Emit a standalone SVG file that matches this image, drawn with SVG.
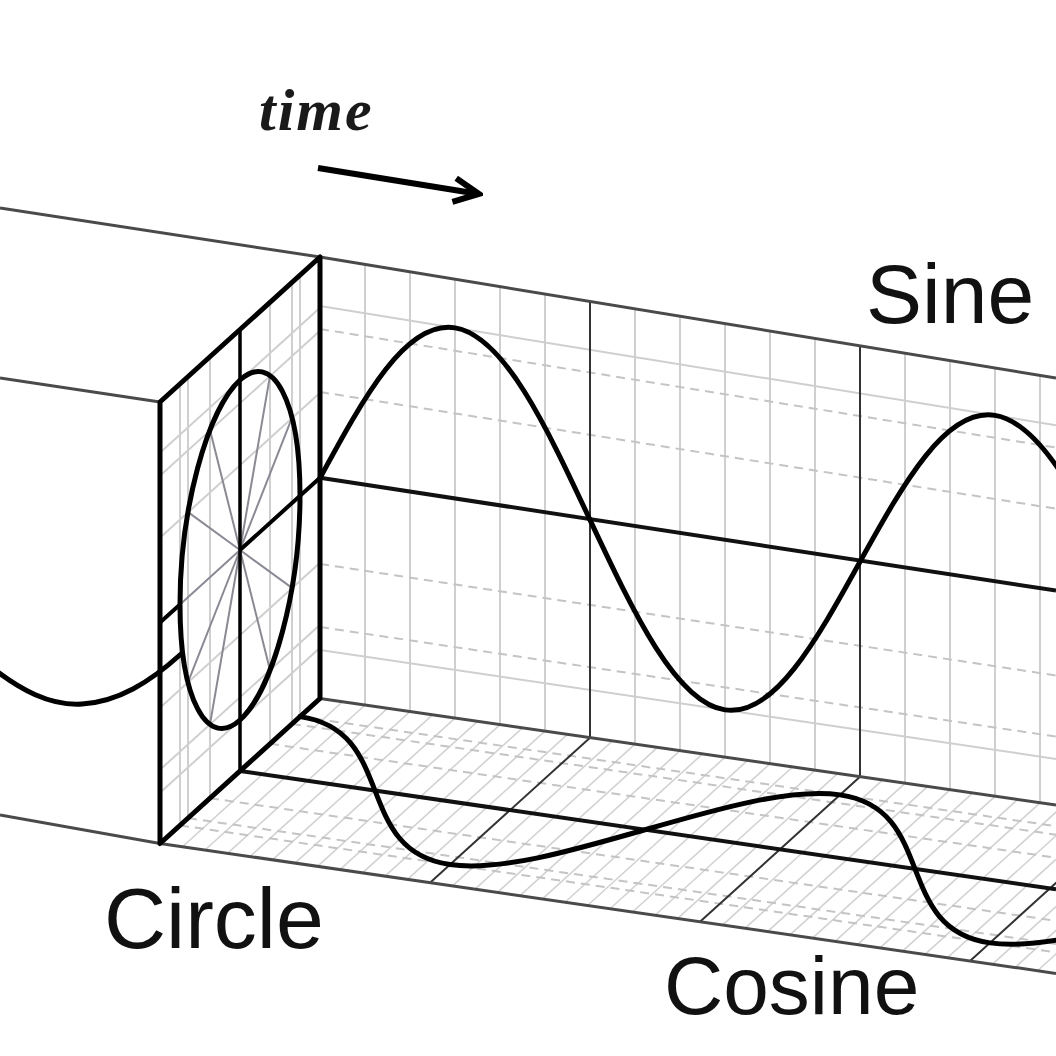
<svg xmlns="http://www.w3.org/2000/svg" width="1056" height="1056" viewBox="0 0 1056 1056">
  <defs>
    <style>
      .grid { stroke: #cfcfcf; stroke-width: 2; fill: none; }
      .gridDash { stroke: #c4c4c4; stroke-width: 2; fill: none; stroke-dasharray: 9 6; }
      .hatch { stroke: #d2d2d2; stroke-width: 1.6; fill: none; }
      .edge { stroke: #4a4a4a; stroke-width: 3; fill: none; }
      .major { stroke: #333; stroke-width: 2; fill: none; }
      .axis { stroke: #111; stroke-width: 4; fill: none; }
      .curve { stroke: #000; stroke-width: 5; fill: none; stroke-linecap: round; }
      .frame { stroke: #000; stroke-width: 5; fill: none; stroke-linejoin: round; }
      .spoke { stroke: #8a8a95; stroke-width: 2; fill: none; }
      .label { font-family: "Liberation Sans", Arial, sans-serif; fill: #111; }
    </style>
    <marker id="arrowhead" markerUnits="userSpaceOnUse" markerWidth="34" markerHeight="34" viewBox="0 0 34 34" refX="30" refY="16" orient="auto">
      <path d="M5,4 L30,16 L5,28" fill="none" stroke="#000" stroke-width="6" stroke-linejoin="miter"/>
    </marker>
  </defs>
  <rect width="1056" height="1056" fill="#fff"/>

  <!-- floor (cosine plane) grid -->
  <g id="floor-grid">
    <path class="hatch" d="M342.5,701.76 l-160,145 M365,705.03 l-160,145 M387.5,708.29 l-160,145 M410,711.55 l-160,145 M432.5,714.81 l-160,145 M455,718.08 l-160,145 M477.5,721.34 l-160,145 M500,724.6 l-160,145 M522.5,727.86 l-160,145 M545,731.13 l-160,145 M567.5,734.39 l-160,145 M612.5,740.91 l-160,145 M635,744.18 l-160,145 M657.5,747.44 l-160,145 M680,750.7 l-160,145 M702.5,753.96 l-160,145 M725,757.23 l-160,145 M747.5,760.49 l-160,145 M770,763.75 l-160,145 M792.5,767.01 l-160,145 M815,770.28 l-160,145 M837.5,773.54 l-160,145 M882.5,780.06 l-160,145 M905,783.33 l-160,145 M927.5,786.59 l-160,145 M950,789.85 l-160,145 M972.5,793.11 l-160,145 M995,796.38 l-160,145 M1017.5,799.64 l-160,145 M1040,802.9 l-160,145 M1062.5,806.16 l-160,145 M1085,809.43 l-160,145 M1107.5,812.69 l-160,145 M1152.5,819.21 l-160,145 M1175,822.48 l-160,145 M1197.5,825.74 l-160,145 M1220,829 l-160,145"/>
    <path class="gridDash" d="M300,716.6 L1056,826.2 M291.96,723.9 L1056,834.7 M270,743.8 L1056,857.75 M210,798.2 L1056,920.85 M188.04,818.1 L1056,943.9 M180,825.4 L1056,952.4"/>
    <path class="major" d="M590,737.7 L430,882.7 M860,776.8 L700,921.8 M1130,815.9 L970,960.9"/>
  </g>

  <!-- sine wall grid -->
  <g id="wall-grid">
    <path class="grid" d="M365,264.4 V705 M410,271.8 V711.6 M455,279.2 V718.1 M500,286.6 V724.7 M545,294 V731.2 M635,308.8 V744.3 M680,316.2 V750.8 M725,323.6 V757.4 M770,331 V763.9 M815,338.4 V770.5 M905,353.2 V783.6 M950,360.6 V790.1 M995,368 V796.6 M1040,375.4 V803.2"/>
    <path class="grid" d="M320,306 L1056,425.2 M320,650 L1056,758.9"/>
    <path class="gridDash" d="M320,329 L1056,447.6 M320,627 L1056,736.6 M320,392 L1056,508.7 M320,564 L1056,675.5"/>
    <path class="major" d="M590,301.4 V737.8 M860,345.8 V777"/>
  </g>

  <!-- circle panel grid -->
  <g id="panel-grid">
    <path class="grid" d="M180,383.9 V825.4 M188,376.6 V818.1 M210,356.7 V798.2 M270,302.3 V743.8 M292,282.4 V723.9 M300,275.2 V716.7"/>
    <path class="grid" d="M160,452.75 L320,307.75 M160,475.75 L320,330.75 M160,537.75 L320,392.75 M160,707.75 L320,562.75 M160,769.75 L320,624.75 M160,792.75 L320,647.75"/>
  </g>

  <!-- box edges -->
  <g id="edges">
    <path class="edge" d="M0,208 L320,257 L1056,378"/>
    <path class="edge" d="M0,378 L160,402"/>
    <path class="edge" d="M0,815 L160,843.5 L1056,973.4"/>
    <path class="edge" d="M320,698.5 L1056,805"/>
  </g>

  <!-- axes -->
  <g id="axes">
    <path class="axis" d="M320,477.75 L1056,590.6"/>
    <path class="axis" d="M240,771 L1056,889.3"/>
  </g>

  <!-- circle panel -->
  <g id="circle-panel">
    <path class="spoke" d="M240,550 L291.96,417.89 M240,550 L270,375.58 M240,550 L210,429.98 M240,550 L188.04,512.11 M240,550 L180,604.4 M240,550 L188.04,682.11 M240,550 L210,724.42 M240,550 L270,670.02 M240,550 L291.96,587.89"/>
    <circle cx="0" cy="0" r="1" transform="matrix(60,-54.4,0,170,240,550)" fill="none" stroke="#000" stroke-width="5" vector-effect="non-scaling-stroke"/>
    <path class="frame" d="M160,402 L320,257 L320,698.5 L160,843.5 Z"/>
    <path d="M240,329.5 V771" stroke="#000" stroke-width="3.5" fill="none"/>
    <path d="M160,622.5 L180,604.4 M240,550 L320,477.75" stroke="#000" stroke-width="4" fill="none"/>
  </g>

  <!-- waves -->
  <g id="waves">
    <path id="past-wave" class="curve" d="M-10,666 C20,690 50,706 82,704 C118,702 150,682 181,654"/>
    <path id="sine-wave" class="curve" d="M320,478 C364,396.9 406.1,320 455,327.9 C503.9,335.8 546,425.7 590,519.9 C634,613.7 676.1,702.7 725,709.9 C773.9,717.2 816,641.2 860,561.7 C904,482.5 946.1,407.4 995,415.4 C1043.9,423.3 1086,511.4 1130,603.6"/>
    <path id="cosine-wave" class="curve" d="M300,716.6 C348.86,723.68 361.72,756.32 375,790.58 C388.28,824.83 401.14,857.47 450,864.55 C498.86,871.63 570.24,851.21 645,829.73 C719.76,808.24 791.14,787.82 840,794.9 C888.86,801.98 901.72,834.62 915,868.88 C928.28,903.13 941.14,935.77 990,942.85 C1038.86,949.93 1110.24,929.51 1185,908.03"/>
  </g>

  <!-- time arrow -->
  <g id="time">
    <text x="259" y="130" font-family="Liberation Serif, serif" font-style="italic" font-weight="bold" font-size="60" letter-spacing="2" fill="#1a1a1a">time</text>
    <path d="M318,168 L479,194" stroke="#000" stroke-width="6" fill="none" marker-end="url(#arrowhead)"/>
  </g>

  <!-- labels -->
  <g id="labels">
    <text class="label" x="866" y="323" font-size="84">Sine</text>
    <text class="label" x="104" y="948" font-size="86">Circle</text>
    <text class="label" x="664" y="1014" font-size="82">Cosine</text>
  </g>
</svg>
